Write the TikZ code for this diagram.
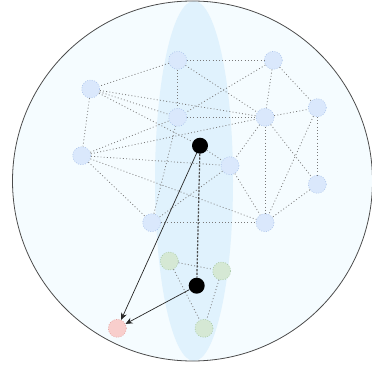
\documentclass[tikz,border=0pt]{standalone}
\usetikzlibrary{arrows.meta}

\definecolor{spherefill}{HTML}{F5FCFF}
\definecolor{bandfill}{HTML}{E0F2FD}
\definecolor{bluefill}{HTML}{DAE8FC}
\definecolor{blueline}{HTML}{A9C2EA}
\definecolor{greenfill}{HTML}{D5E8D4}
\definecolor{greenline}{HTML}{A3C69F}
\definecolor{redfill}{HTML}{F8CECC}
\definecolor{redline}{HTML}{E39E9A}
\definecolor{edgegray}{HTML}{7A7A7A}

\tikzset{
  vtx/.style={circle, minimum size=18pt, inner sep=0pt, line width=0.6pt,
              dash pattern=on 0.8pt off 1.6pt},
  bluevtx/.style={vtx, fill=bluefill, draw=blueline},
  greenvtx/.style={vtx, fill=greenfill, draw=greenline},
  redvtx/.style={vtx, fill=redfill, draw=redline},
  hub/.style={circle, fill=black, minimum size=16pt, inner sep=0pt},
  link/.style={draw=edgegray, line width=0.8pt, dash pattern=on 0.9pt off 2.3pt},
  chain/.style={draw=black!70, line width=1.2pt, dash pattern=on 2.2pt off 1.4pt},
  pointer/.style={draw=black!85, line width=0.7pt, -{Stealth[length=7pt,width=6pt]}}
}

\begin{document}
\begin{tikzpicture}[x=1pt, y=-1pt]
  \useasboundingbox (0,0) rectangle (372,369);

  % sphere and the vertical band through it
  \fill[spherefill] (192.5,181) circle (180);
  \fill[bandfill] (194,181) ellipse (39 and 180);
  \draw[black!70, line width=0.8pt] (192.5,181) circle (180);

  % upper graph
  \node[bluevtx] (a) at (177.7,60.3) {};
  \node[bluevtx] (b) at (273.3,60.3) {};
  \node[bluevtx] (c) at (90.7,89) {};
  \node[bluevtx] (d) at (177.7,117.3) {};
  \node[bluevtx] (e) at (265,117.3) {};
  \node[bluevtx] (f) at (317.3,107.7) {};
  \node[bluevtx] (g) at (81.7,155.7) {};
  \node[bluevtx] (h) at (230,165.7) {};
  \node[bluevtx] (i) at (317.3,184.3) {};
  \node[bluevtx] (j) at (151.7,222.7) {};
  \node[bluevtx] (k) at (265,222.7) {};

  % lower cluster
  \node[greenvtx] (g1) at (169.3,261) {};
  \node[greenvtx] (g2) at (221.7,271) {};
  \node[greenvtx] (g3) at (204,328.3) {};

  % target
  \node[redvtx] (t) at (117.3,328.3) {};

  % hubs
  \node[hub] (p) at (200,145.7) {};
  \node[hub] (q) at (196.7,285.7) {};

  % dotted links
  \foreach \u/\v in {a/b, a/c, a/d, a/e, b/d, b/e, b/f, c/g, c/e, c/d,
                     d/e, e/f, g/d, g/e, g/h, g/k, g/j, e/h, e/k, e/i,
                     f/i, f/k, i/k, h/k, h/j, j/k, j/d,
                     g1/g2, g1/g3, g2/g3, c/p, p/h}
    \path[link] (\u) -- (\v);

  % hub chain and arrows to the target
  \path[chain] (p) -- (q);
  \path[pointer] (p) -- (t);
  \path[pointer] (q) -- (t);
\end{tikzpicture}
\end{document}
